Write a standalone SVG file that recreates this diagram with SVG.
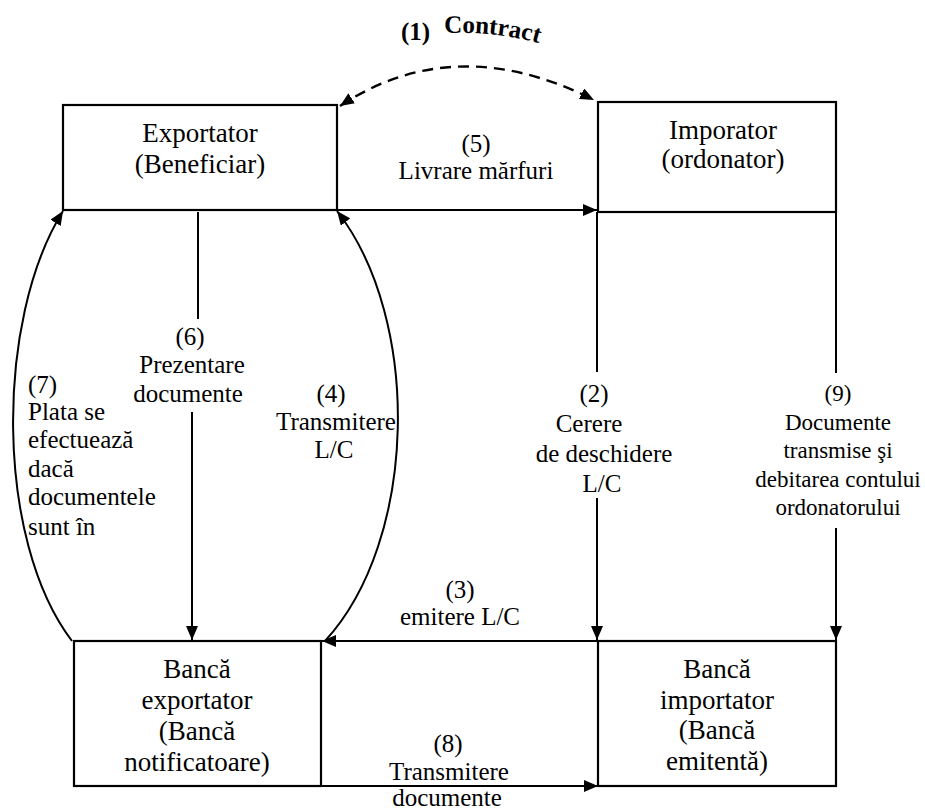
<svg xmlns="http://www.w3.org/2000/svg" width="925" height="811" viewBox="0 0 925 811">
<style>
  .box { fill: #ffffff; stroke: #000000; stroke-width: 2.2; }
  .t { font-family: 'Liberation Serif', 'DejaVu Serif', serif; font-size: 27px; fill: #000000; text-anchor: middle; }
  .l { font-family: 'Liberation Serif', 'DejaVu Serif', serif; font-size: 25px; fill: #000000; text-anchor: middle; }
  .ls { font-family: 'Liberation Serif', 'DejaVu Serif', serif; font-size: 23px; fill: #000000; text-anchor: middle; }
  .start { text-anchor: start; }
  .c { fill: none; stroke: #000000; stroke-width: 2; }
  .dash { stroke-dasharray: 11 7; stroke-width: 2.4; }
  .ttl { font-family: 'Liberation Serif', 'DejaVu Serif', serif; font-size: 25px; font-weight: bold; fill: #000000; }
</style>
<defs>
  <marker id="arr" markerUnits="userSpaceOnUse" markerWidth="14" markerHeight="12" refX="14" refY="6" orient="auto-start-reverse" viewBox="0 0 14 12">
    <path d="M0,0 L14,6 L0,12 Z" fill="#000000"/>
  </marker>
</defs>
<rect width="925" height="811" fill="#ffffff"/>

<g id="title" font-family="Liberation Serif, serif">
  <text class="ttl" x="401" y="40">(1)</text>
  <path id="arcp" d="M444,33 Q500,31 545,45" fill="none" stroke="none"/>
  <text class="ttl"><textPath href="#arcp">Contract</textPath></text>
</g>

<g id="connectors">
  <path class="c dash" d="M340,106 Q455,30 594,100" marker-start="url(#arr)" marker-end="url(#arr)"/>
  <line class="c" x1="337" y1="210" x2="597" y2="210" marker-end="url(#arr)"/>
  <line class="c" x1="198" y1="212" x2="198" y2="319"/>
  <line class="c" x1="192" y1="412" x2="192" y2="640" marker-end="url(#arr)"/>
  <path class="c" d="M72,641 C-5,540 -5,320 63,211" marker-end="url(#arr)"/>
  <path class="c" d="M325,641 C418,540 422,320 337,211" marker-end="url(#arr)"/>
  <line class="c" x1="597" y1="212" x2="597" y2="372"/>
  <line class="c" x1="597" y1="498" x2="597" y2="640" marker-end="url(#arr)"/>
  <line class="c" x1="836" y1="212" x2="836" y2="373"/>
  <line class="c" x1="836" y1="528" x2="836" y2="640" marker-end="url(#arr)"/>
  <line class="c" x1="598" y1="641" x2="322" y2="641" marker-end="url(#arr)"/>
  <line class="c" x1="322" y1="786" x2="598" y2="786" marker-end="url(#arr)"/>
</g>

<g id="labels" font-family="Liberation Serif, serif">
  <text class="l" x="476" y="152">(5)</text>
  <text class="l" x="476" y="179">Livrare mărfuri</text>

  <text class="l" x="190" y="345">(6)</text>
  <text class="l" x="192" y="373">Prezentare</text>
  <text class="l" x="188" y="402">documente</text>

  <text class="l" x="331" y="402">(4)</text>
  <text class="l" x="336" y="430">Transmitere</text>
  <text class="l" x="334" y="458">L/C</text>

  <text class="l start" x="28" y="393">(7)</text>
  <text class="l start" x="28" y="420">Plata se</text>
  <text class="l start" x="28" y="448">efectuează</text>
  <text class="l start" x="28" y="477">dacă</text>
  <text class="l start" x="28" y="505">documentele</text>
  <text class="l start" x="28" y="535">sunt în</text>

  <text class="l" x="594" y="402">(2)</text>
  <text class="l" x="589" y="432">Cerere</text>
  <text class="l" x="604" y="462">de deschidere</text>
  <text class="l" x="602" y="492">L/C</text>

  <text class="ls" x="838" y="401">(9)</text>
  <text class="ls" x="838" y="430">Documente</text>
  <text class="ls" x="838" y="458">transmise şi</text>
  <text class="ls" x="838" y="487">debitarea contului</text>
  <text class="ls" x="838" y="515">ordonatorului</text>

  <text class="l" x="460" y="598">(3)</text>
  <text class="l" x="460" y="625">emitere L/C</text>

  <text class="l" x="448" y="752">(8)</text>
  <text class="l" x="449" y="780">Transmitere</text>
  <text class="l" x="447" y="806">documente</text>
</g>

<g id="exportator" font-family="Liberation Serif, serif">
  <rect class="box" x="63" y="105" width="274" height="105"/>
  <text class="t" x="200" y="142">Exportator</text>
  <text class="t" x="200" y="173">(Beneficiar)</text>
</g>

<g id="importator" font-family="Liberation Serif, serif">
  <rect class="box" x="598" y="102" width="238" height="110"/>
  <text class="t" x="723" y="139">Imporator</text>
  <text class="t" x="723" y="168">(ordonator)</text>
</g>

<g id="banca-exportator" font-family="Liberation Serif, serif">
  <rect class="box" x="74" y="641" width="247" height="145"/>
  <text class="t" x="197" y="678">Bancă</text>
  <text class="t" x="197" y="709">exportator</text>
  <text class="t" x="197" y="740">(Bancă</text>
  <text class="t" x="197" y="771">notificatoare)</text>
</g>

<g id="banca-importator" font-family="Liberation Serif, serif">
  <rect class="box" x="598" y="641" width="238" height="145"/>
  <text class="t" x="717" y="678">Bancă</text>
  <text class="t" x="717" y="709">importator</text>
  <text class="t" x="717" y="739">(Bancă</text>
  <text class="t" x="717" y="770">emitentă)</text>
</g>
</svg>
